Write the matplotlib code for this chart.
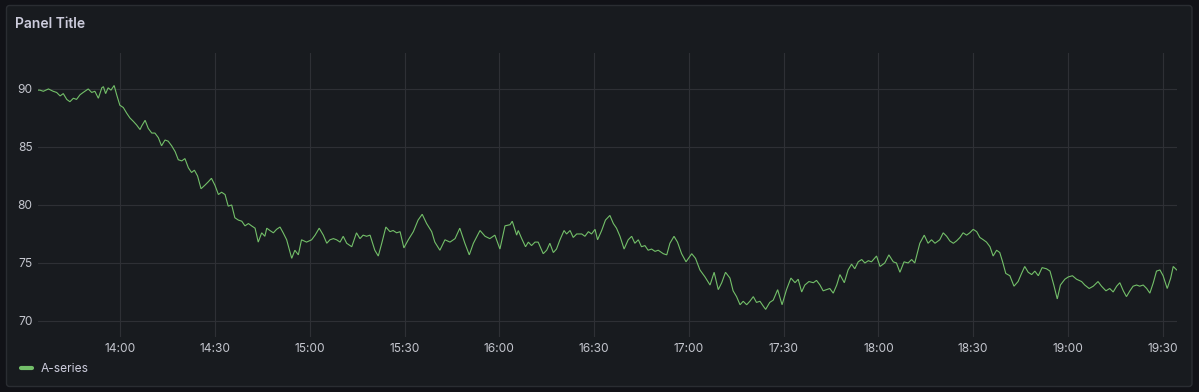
import matplotlib
matplotlib.use("Agg")
import matplotlib.pyplot as plt
import matplotlib.dates as mdates
from matplotlib.ticker import MultipleLocator
from matplotlib.patches import FancyBboxPatch
from matplotlib.lines import Line2D
from matplotlib.transforms import IdentityTransform
import pandas as pd

plt.rcParams['font.family'] = ['Inter', 'DejaVu Sans']

# ---------------- data ----------------
start_time = "2024-01-01 13:34"
series_name = "A-series"
panel_title = "Panel Title"

minutes = [
    0.0, 0.6, 1.7, 3.3, 4.8, 5.9, 7.0, 8.0, 9.1, 10.1,
    11.2, 12.2, 13.3, 14.3, 15.9, 17.0, 18.0, 19.1, 20.2, 20.7,
    21.4, 22.2, 23.1, 24.1, 24.9, 25.9, 27.0, 28.1, 29.1, 30.2,
    31.2, 32.3, 32.8, 33.9, 34.9, 36.0, 37.0, 38.1, 39.1, 40.2,
    41.2, 42.3, 43.4, 44.4, 45.5, 46.5, 47.6, 48.6, 49.5, 50.5,
    51.6, 52.8, 53.9, 54.9, 56.0, 57.1, 58.1, 59.2, 60.2, 61.3,
    62.3, 63.4, 64.5, 65.5, 66.6, 67.6, 68.7, 69.7, 70.8, 71.8,
    72.4, 73.4, 74.5, 75.5, 76.6, 77.6, 78.7, 80.3, 81.3, 82.4,
    83.4, 85.0, 86.6, 87.7, 89.0, 90.3, 91.4, 92.4, 93.5, 94.5,
    95.6, 96.6, 97.7, 99.3, 100.8, 101.9, 102.9, 104.0, 105.1, 106.6,
    107.7, 108.8, 110.1, 111.4, 112.4, 113.5, 114.6, 115.8, 117.2, 118.8,
    120.3, 121.6, 123.0, 124.6, 125.6, 127.2, 128.8, 130.4, 132.0, 133.5,
    135.1, 136.5, 137.8, 139.9, 141.5,
    143.0, 144.6, 146.2, 147.8, 149.4, 150.1, 151.5, 152.0, 153.1, 154.3,
    155.2, 156.2, 157.3, 158.3, 159.9, 161.0, 162.0, 163.1, 164.1, 165.2,
    166.5, 167.3, 168.4, 169.4, 170.5, 172.1, 173.1, 174.2, 175.2, 176.3,
    177.1, 178.4, 179.6, 181.0, 182.1, 183.1, 184.2, 185.5, 186.8, 187.9,
    188.9, 190.0, 191.0, 192.1, 193.1, 194.2, 195.3, 196.3, 197.9, 199.0,
    200.0, 201.3, 202.4, 203.7, 205.1, 206.9, 208.1, 209.5, 211.1, 212.7,
    214.0,
    215.3, 216.4, 217.6, 219.0, 220.0, 221.1, 222.2, 223.2, 224.3, 225.3,
    226.4, 227.4, 228.5, 229.5, 230.3, 231.6, 232.7, 234.1, 235.5, 236.9,
    238.3, 239.6, 240.6, 241.7, 242.7, 244.0, 245.4, 246.4, 247.5, 248.5,
    249.6, 250.6, 251.7, 252.8, 253.8, 255.2, 256.4, 257.5, 258.5, 259.6,
    260.7, 261.7, 262.8, 263.8, 265.4, 266.5, 268.0, 269.3, 270.7, 271.7,
    272.8, 274.1, 275.4, 276.5, 277.5, 279.1, 280.5, 281.7, 282.8, 283.9,
    285.4, 286.5, 287.6, 288.6, 289.7, 290.7, 291.8, 292.8, 293.9, 294.9,
    296.0, 297.1, 298.1, 299.2, 300.2, 301.3, 302.3, 303.4, 304.4, 305.3,
    306.3, 307.6, 308.9, 310.2, 311.3, 312.3, 313.4, 314.5, 315.5, 316.6,
    317.8, 319.2, 320.3, 321.5, 322.6, 323.6, 325.0, 326.1, 327.4, 328.7,
    330.3, 331.3, 332.7, 334.0, 335.5, 336.6, 338.0, 339.2, 340.3, 341.4,
    342.4, 343.5, 344.5, 345.6, 346.6, 347.7, 348.7, 349.8, 350.9, 351.9,
    353.0, 354.0, 355.1, 356.1, 357.4, 358.5, 359.3, 360.4,
]

values = [
    89.9, 89.9, 89.8, 90.0, 89.8, 89.7, 89.4, 89.6, 89.1, 88.9,
    89.2, 89.1, 89.5, 89.7, 90.0, 89.7, 89.8, 89.2, 90.1, 90.2,
    89.6, 90.1, 89.9, 90.3, 89.5, 88.6, 88.4, 87.9, 87.5, 87.2,
    86.9, 86.5, 86.8, 87.3, 86.6, 86.2, 86.2, 85.8, 85.1, 85.6,
    85.5, 85.1, 84.6, 83.9, 83.8, 84.0, 83.2, 82.8, 83.0, 82.5,
    81.4, 81.7, 82.0, 82.3, 81.7, 80.9, 81.1, 80.9, 79.9, 80.0,
    78.9, 78.7, 78.6, 78.2, 78.4, 78.2, 78.0, 76.8, 77.6, 77.3,
    78.0, 77.8, 77.6, 77.9, 78.1, 77.6, 77.0, 75.4, 76.1, 75.7,
    77.0, 76.8, 77.0, 77.4, 78.0, 77.4, 76.7, 77.0, 77.1, 77.0,
    76.8, 77.3, 76.7, 76.4, 77.6, 77.1, 77.4, 77.3, 77.4, 76.1,
    75.6, 76.7, 78.1, 77.7, 77.8, 77.6, 77.7, 76.3, 77.0, 77.7,
    78.7, 79.2, 78.4, 77.7, 76.8, 76.1, 77.0, 76.8, 77.1, 78.0,
    76.7, 75.7, 76.7, 77.8, 77.3,
    77.1, 77.4, 76.2, 78.2, 78.3, 78.6, 77.4, 77.8, 77.1, 76.4,
    76.8, 76.5, 76.8, 76.8, 75.8, 76.1, 76.7, 75.9, 76.2, 77.0,
    77.8, 77.5, 77.8, 77.2, 77.5, 77.5, 77.3, 77.7, 77.5, 77.9,
    77.0, 77.8, 78.7, 79.1, 78.4, 78.0, 77.3, 76.2, 77.0, 77.3,
    76.7, 77.0, 76.4, 76.5, 76.1, 76.2, 76.0, 76.1, 75.8, 75.7,
    76.7, 77.3, 76.8, 75.8, 75.1, 75.8, 75.4, 74.4, 73.8, 73.1,
    74.2,
    72.7, 73.3, 74.2, 73.7, 72.6, 72.1, 71.4, 71.7, 71.4, 71.7,
    72.1, 71.6, 71.7, 71.3, 71.0, 71.6, 71.8, 72.7, 71.4, 72.7,
    73.7, 73.3, 73.6, 72.5, 73.1, 73.4, 73.3, 73.5, 73.1, 72.6,
    72.7, 72.8, 72.4, 73.1, 74.0, 73.3, 74.4, 74.9, 74.5, 75.1,
    75.3, 75.0, 75.2, 75.1, 75.6, 74.7, 75.0, 75.7, 75.1, 75.0,
    74.2, 75.1, 75.0, 75.3, 75.0, 76.7, 77.4, 76.7, 77.0, 76.7,
    77.0, 77.6, 77.3, 76.9, 76.7, 76.9, 77.2, 77.6, 77.4, 77.6,
    77.9, 77.7, 77.2, 77.0, 76.8, 76.4, 75.6, 76.1, 75.9, 75.1,
    74.1, 73.9, 73.0, 73.4, 74.1, 74.7, 74.2, 74.0, 74.3, 73.9,
    74.6, 74.5, 74.3, 73.1, 71.9, 73.1, 73.6, 73.8, 73.9, 73.6,
    73.4, 73.1, 72.8, 73.0, 73.4, 73.0, 72.6, 72.8, 72.5, 73.0,
    73.3, 72.6, 72.1, 72.6, 73.0, 73.1, 73.0, 73.1, 72.8, 72.4,
    73.3, 74.3, 74.4, 73.9, 72.8, 73.7, 74.7, 74.4,
]

# ---------------- style ----------------
W, H = 1199, 392
BG = '#111217'
PANEL = '#181b1f'
BORDER = '#2a2d32'
GRID = '#2e3035'
TEXT = '#ccccdc'
TICK = '#c4c6ce'
GREEN = '#73bf69'

fig = plt.figure(figsize=(W / 100, H / 100), dpi=100)
fig.patch.set_facecolor(BG)

panel = FancyBboxPatch((6.5, H - 386.5), 1185.5, 381.0,
                       boxstyle="round,pad=0,rounding_size=3",
                       transform=IdentityTransform(),
                       facecolor=PANEL, edgecolor=BORDER, lw=1.0, zorder=-10)
fig.add_artist(panel)

ax = fig.add_axes([38 / W, 1 - 337 / H, (1176.7 - 38) / W, (337 - 53) / H])
ax.set_zorder(1)
ax.set_facecolor('none')
ax.patch.set_alpha(0)

times = pd.Timestamp(start_time) + pd.to_timedelta(minutes, unit='min')
ax.plot(times, values, color=GREEN, lw=0.8, solid_joinstyle='miter')

ax.set_xlim(times[0], times[-1])
ax.set_ylim(68.62, 93.1)
ax.yaxis.set_major_locator(MultipleLocator(5))
ax.xaxis.set_major_locator(mdates.MinuteLocator(byminute=[0, 30]))
ax.xaxis.set_major_formatter(mdates.DateFormatter('%H:%M'))

ax.grid(True, color=GRID, lw=0.8)
ax.set_axisbelow(True)
for s in ax.spines.values():
    s.set_visible(False)
ax.tick_params(axis='both', length=0, colors=TICK, labelsize=8.6)
ax.tick_params(axis='y', pad=4)
ax.tick_params(axis='x', pad=4)

fig.text(15 / W, 1 - 24 / H, panel_title, color=TEXT, fontsize=10,
         fontweight='semibold', ha='left', va='center', zorder=5)

fig.add_artist(Line2D([20.5 / W, 31.5 / W], [1 - 368 / H, 1 - 368 / H],
                      color=GREEN, lw=3, solid_capstyle='round',
                      transform=fig.transFigure, zorder=5))
fig.text(41 / W, 1 - 368.5 / H, series_name, color=TEXT, fontsize=8.6,
         ha='left', va='center', zorder=5)

fig.savefig('out.png', dpi=100, facecolor=BG)
